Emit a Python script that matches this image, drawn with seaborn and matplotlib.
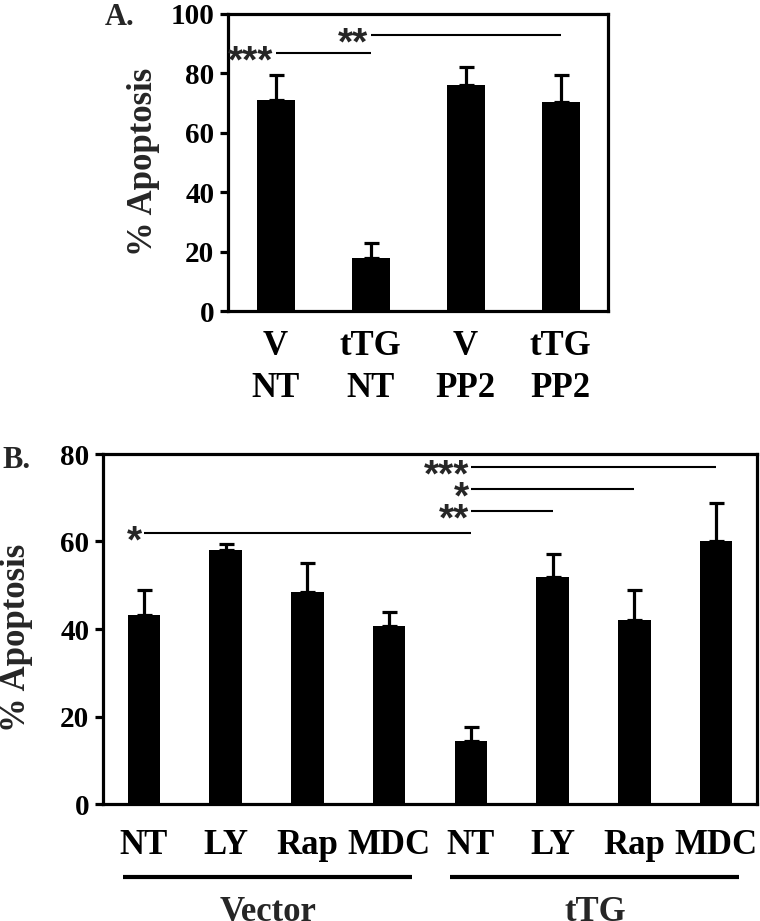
import matplotlib
matplotlib.use("Agg")
import matplotlib.pyplot as plt
import seaborn as sns
import pandas as pd
import numpy as np

# ---- data ----
a_labels = ["V\nNT", "tTG\nNT", "V\nPP2", "tTG\nPP2"]
a_values = [71, 18, 76, 70.5]
a_errors = [8.5, 5, 6, 9]
a_sig = [(0, 1, 87, "***"), (1, 3, 93, "**")]

b_labels = ["NT", "LY", "Rap", "MDC", "NT", "LY", "Rap", "MDC"]
b_groups = ["Vector", "Vector", "Vector", "Vector", "tTG", "tTG", "tTG", "tTG"]
b_values = [43.1, 58.1, 48.5, 40.6, 14.4, 51.8, 42.1, 60.2]
b_errors = [5.8, 1.3, 6.5, 3.2, 3.2, 5.4, 6.9, 8.5]
b_sig = [(0, 4, 62, "*"), (4, 5, 67, "**"), (4, 6, 72, "*"), (4, 7, 77, "***")]

sns.set_style("ticks")
plt.rcParams["font.family"] = ["Liberation Serif", "DejaVu Serif"]
plt.rcParams["font.weight"] = "bold"

W, H = 760, 921
fig = plt.figure(figsize=(W / 100, H / 100), dpi=100)

def px_axes(l, t, r, b):
    return fig.add_axes([l / W, 1 - b / H, (r - l) / W, (b - t) / H])

axA = px_axes(228, 14, 608, 311)
axB = px_axes(103, 454, 757, 804)

LW = 2.3

def draw(ax, labels, values, errors, ymax, step):
    keys = [f"k{i}" for i in range(len(values))]
    df = pd.DataFrame({"key": keys, "value": values})
    sns.barplot(data=df, x="key", y="value", color="black", saturation=1,
                width=0.4, errorbar=None, linewidth=0, ax=ax)
    x = np.arange(len(values))
    ax.errorbar(x, values, yerr=[np.zeros(len(values)), errors], fmt="none",
                ecolor="black", elinewidth=2.3, capsize=5.4, capthick=2.3)
    ax.set_xlim(-0.5, len(values) - 0.5)
    ax.set_ylim(0, ymax)
    ax.set_yticks(np.arange(0, ymax + 1, step))
    ax.set_xticks(x)
    ax.set_xticklabels(labels)
    ax.set_xlabel("")
    ax.set_ylabel("")
    for s in ax.spines.values():
        s.set_visible(True)
        s.set_linewidth(LW)
        s.set_color("black")
    ax.tick_params(axis="y", direction="out", length=5.8, width=LW,
                   labelsize=21, pad=4, colors="black")
    ax.tick_params(axis="x", length=0, labelsize=25, colors="black")
    for t in ax.get_yticklabels() + ax.get_xticklabels():
        t.set_fontweight("bold")

def sig(ax, i, j, y, stars, fs=28):
    ax.plot([i, j], [y, y], color="black", lw=1.5, solid_capstyle="butt")
    ax.annotate(stars, xy=(i, y), xytext=(-1.5, -0.5 * fs), textcoords="offset points",
                ha="right", va="baseline", fontsize=fs,
                fontfamily=["Liberation Sans", "DejaVu Sans"], fontweight="bold")

# Panel A
draw(axA, a_labels, a_values, a_errors, 100, 20)
axA.tick_params(axis="x", pad=14)
for t in axA.get_xticklabels():
    t.set_linespacing(1.36)
for i, j, y, s in a_sig:
    sig(axA, i, j, y, s)

# Panel B
draw(axB, b_labels, b_values, b_errors, 80, 20)
axB.tick_params(axis="x", pad=18)
for i, j, y, s in b_sig:
    sig(axB, i, j, y, s)

trans = axB.get_xaxis_transform()
groups = []
for g in dict.fromkeys(b_groups):
    idx = [k for k, gg in enumerate(b_groups) if gg == g]
    groups.append((g, idx[0], idx[-1]))
for g, i0, i1 in groups:
    axB.plot([i0 - 0.25, i1 + 0.28], [-0.209, -0.209], transform=trans,
             color="black", lw=3, clip_on=False, solid_capstyle="butt")
    axB.text((i0 + i1) / 2 + 0.02, -0.264, g, transform=trans, ha="center",
             va="top", fontsize=25, fontweight="bold")

fig.text(143 / W, 1 - 162 / H, "% Apoptosis", rotation=90, fontsize=25,
         fontweight="bold", ha="center", va="center")
fig.text(17 / W, 1 - 638 / H, "% Apoptosis", rotation=90, fontsize=25,
         fontweight="bold", ha="center", va="center")

fig.text(105 / W, 1 - 25 / H, "A.", fontsize=22, fontweight="bold", ha="left", va="baseline")
fig.text(2 / W, 1 - 468 / H, "B.", fontsize=22, fontweight="bold", ha="left", va="baseline")

fig.savefig("out.png", dpi=100)
